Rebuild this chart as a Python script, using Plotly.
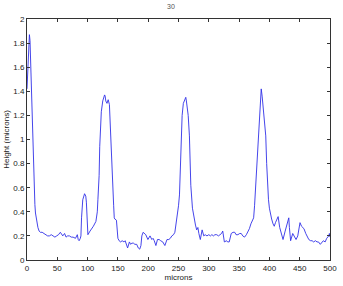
import plotly.graph_objects as go

microns = [0,1,2,3,4,5,6,7,8,9,10,11,12,13,14,16,18,20,22,25,28,31,34,37,40,43,46,49,52,55,57,59,62,64.5,67,70,73,76,80,83,84.5,86,88,89,90,92,95,97,98,99,100.5,104,107,109.5,113.7,116,117,119,120,121.7,122.6,125,127,128,129,130,132,134,136,137,138.6,140,142,143,144,145,147.6,149,150,152,154.5,157,160,162,164,166,169,171,173,175.6,178,181,183.6,186,188,189.5,191.6,194,196,199.5,201,203,206,208,210,212.7,215.3,218,220.6,224,227.5,231,234,236.5,239,241.8,244,246,247,249,250,251.6,253,254,256,258,260,262,263,264,266,268,269.5,270.3,273,275.7,278,280,282,283.6,286,289,291.7,294,297,300,302.7,305,308,310,313,316,318.7,321,323,325.7,329.4,331,333.7,337,340,342.8,345,348,351,353.5,356,359,362,364,367,369.5,372,374,375.5,377,378.5,380,381,383,385,386.5,388,389.5,391,392.5,394,395.5,397,398.5,400,402,403.7,406,408,410,412,414.4,417,420,422.5,426,429,432,433,435,438.5,441,444,446.8,450.5,453,457,460,462.6,465,468,470.5,473,476,478.6,481,484,487,489,492,494.6,498,499,500]

height = [1.42,1.52,1.70,1.84,1.87,1.82,1.62,1.42,1.22,1.05,0.86,0.70,0.56,0.46,0.39,0.32,0.27,0.24,0.23,0.23,0.22,0.21,0.20,0.20,0.21,0.20,0.19,0.20,0.21,0.23,0.21,0.20,0.22,0.19,0.20,0.20,0.19,0.19,0.18,0.21,0.17,0.16,0.18,0.20,0.35,0.50,0.55,0.53,0.48,0.30,0.21,0.24,0.26,0.28,0.32,0.40,0.50,0.70,0.94,1.10,1.23,1.32,1.36,1.37,1.36,1.32,1.30,1.33,1.29,1.15,0.94,0.80,0.55,0.45,0.35,0.34,0.33,0.25,0.18,0.16,0.15,0.16,0.15,0.16,0.13,0.10,0.15,0.13,0.14,0.14,0.13,0.13,0.10,0.09,0.12,0.20,0.23,0.22,0.21,0.17,0.19,0.20,0.17,0.18,0.16,0.12,0.17,0.17,0.16,0.15,0.12,0.17,0.17,0.18,0.20,0.21,0.23,0.30,0.33,0.38,0.45,0.54,0.75,1.00,1.20,1.30,1.33,1.35,1.32,1.29,1.20,1.03,0.80,0.62,0.43,0.34,0.29,0.25,0.27,0.22,0.17,0.25,0.20,0.21,0.20,0.21,0.20,0.21,0.20,0.21,0.21,0.20,0.21,0.22,0.24,0.15,0.16,0.15,0.15,0.22,0.23,0.23,0.21,0.21,0.22,0.22,0.20,0.19,0.21,0.23,0.26,0.30,0.33,0.35,0.45,0.59,0.72,0.86,0.95,1.12,1.35,1.42,1.36,1.28,1.20,1.12,1.03,0.80,0.62,0.50,0.43,0.37,0.34,0.30,0.28,0.31,0.34,0.36,0.27,0.22,0.17,0.24,0.30,0.35,0.27,0.16,0.22,0.20,0.17,0.20,0.31,0.28,0.26,0.22,0.19,0.17,0.16,0.16,0.15,0.16,0.15,0.15,0.13,0.15,0.16,0.15,0.18,0.20,0.22,0.19]

x_ticks = [0, 50, 100, 150, 200, 250, 300, 350, 400, 450, 500]
y_ticks = [0, 0.2, 0.4, 0.6, 0.8, 1, 1.2, 1.4, 1.6, 1.8, 2]

FONT = "Liberation Sans, Arial, sans-serif"

fig = go.Figure(go.Scatter(x=microns, y=height, mode="lines",
                           line=dict(color="#3030e8", width=0.9)))

axis_common = dict(showgrid=False, zeroline=False, showline=True, linecolor="#333333",
                   linewidth=1, mirror="ticks", ticks="inside", ticklen=3,
                   tickcolor="#333333", ticklabeloverflow="allow",
                   tickfont=dict(size=8, color="#222222", family=FONT))

fig.update_xaxes(range=[0, 500], tickvals=x_ticks, ticktext=[str(v) for v in x_ticks],
                 title=dict(text="microns", standoff=2,
                            font=dict(size=8, color="#222222", family=FONT)),
                 **axis_common)
fig.update_yaxes(range=[0, 2], tickvals=y_ticks, ticktext=[f"{v:g}" for v in y_ticks],
                 title=dict(text="Height (microns)", standoff=2,
                            font=dict(size=8, color="#222222", family=FONT)),
                 **axis_common)

fig.add_annotation(text="30", xref="paper", yref="paper", x=0.476, y=1.0766,
                   showarrow=False, yanchor="top",
                   font=dict(size=7, color="#555555", family=FONT))

fig.update_layout(width=343, height=286, margin=dict(l=22, r=6, t=19, b=19),
                  paper_bgcolor="white", plot_bgcolor="white", showlegend=False)

fig.write_html("out.html")
